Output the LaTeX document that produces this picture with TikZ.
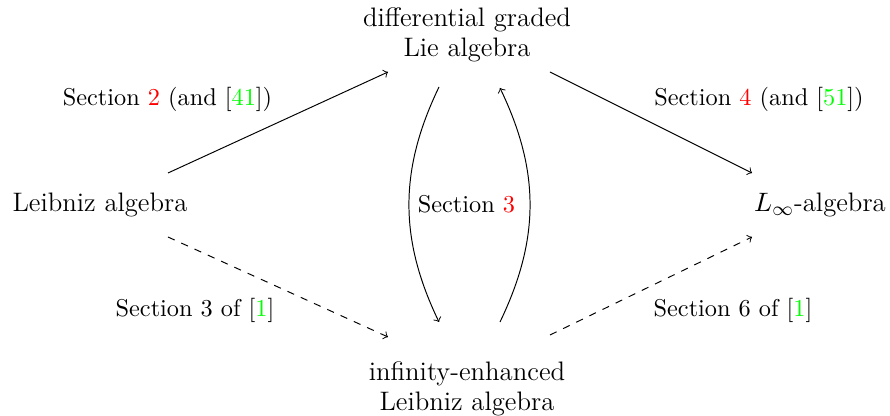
\documentclass[tikz,border=0pt]{standalone}
\usepackage{xcolor}
\definecolor{refred}{RGB}{255,0,0}
\definecolor{refgreen}{RGB}{0,255,0}
\begin{document}
\begin{tikzpicture}[x=0.4115pt,y=-0.4115pt,
  obj/.style={inner sep=0pt,align=center,font=\fontsize{11}{12.4}\selectfont},
  lab/.style={inner sep=0pt,anchor=base},
  arr/.style={->,line width=0.4pt}]
\useasboundingbox (0,0) rectangle (890,416);
\node[obj] (dg) at (467,34.5) {differential graded\\Lie algebra};
\node[obj,anchor=base] (leib) at (100,212) {Leibniz algebra};
\node[obj,anchor=base] (linf) at (820,212) {$L_\infty$-algebra};
\node[obj] (inf) at (467,389) {infinity-enhanced\\Leibniz algebra};

\draw[arr] ([shift={(68,-39)}]leib.base) -- ([shift={(-79,37.5)}]dg.center);
\draw[arr] ([shift={(83,37.5)}]dg.center) -- ([shift={(-68,-39)}]linf.base);
\draw[arr,dashed] ([shift={(68,25)}]leib.base) -- ([shift={(-79,-52)}]inf.center);
\draw[arr,dashed] ([shift={(83,-54)}]inf.center) -- ([shift={(-68,25)}]linf.base);
\draw[arr] ([shift={(-28,52.5)}]dg.center) .. controls +(-40,83) and +(-40,-83) .. ([shift={(-28,-67)}]inf.center);
\draw[arr] ([shift={(33,-67)}]inf.center) .. controls +(40,-83) and +(40,83) .. ([shift={(33,53.5)}]dg.center);

\node[lab] (l1) at (167.5,106) {Section \textcolor{refred}{2} (and [\textcolor{refgreen}{41}])};
\node[lab] (l2) at (759,106) {Section \textcolor{refred}{4} (and [\textcolor{refgreen}{51}])};
\node[lab] (l3) at (466.5,213) {Section \textcolor{refred}{3}};
\node[lab] (l4) at (195,317) {Section 3 of [\textcolor{refgreen}{1}]};
\node[lab] (l5) at (733,317) {Section 6 of [\textcolor{refgreen}{1}]};
\end{tikzpicture}
\end{document}
